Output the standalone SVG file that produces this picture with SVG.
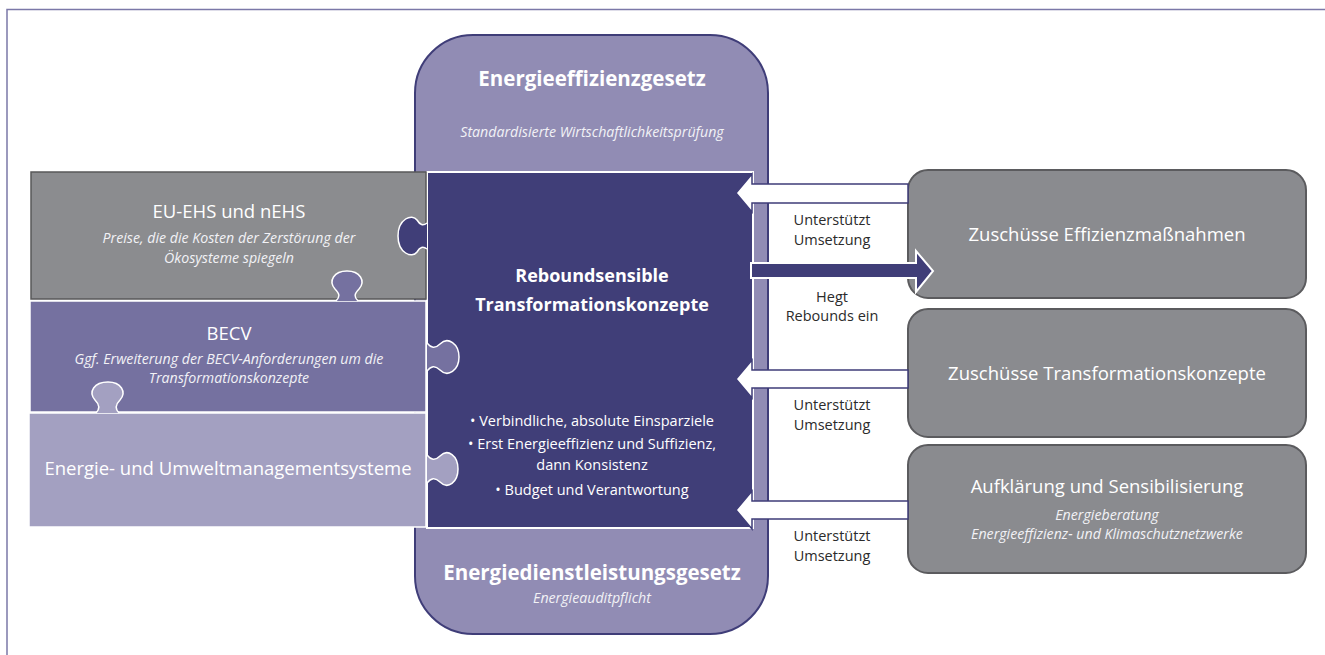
<svg xmlns="http://www.w3.org/2000/svg" width="1325" height="655" viewBox="0 0 1325 655">
<style>
text{font-family:"Open Sans","Noto Sans",sans-serif;fill:#fff;text-anchor:middle}
.t{font-size:18.5px}
.it{font-size:14.2px;font-style:italic;fill:#f2f2f6}
.b{font-weight:bold}
.lbl{font-size:14.5px;fill:#2b2b2b}
.bul{font-size:14.5px}
.arw{fill:#fff;stroke:#3f3d78;stroke-width:1.5}
.box{fill:#8a8b8f;stroke:#5b5b5e;stroke-width:2}
.knob{stroke:#fff;stroke-width:1.5}
</style>
<rect x="7" y="9.5" width="1340" height="680" fill="none" stroke="#7b78a8" stroke-width="1.5"/>

<g id="law-frame">
<rect x="415" y="35" width="353" height="599" rx="58" fill="#918cb4" stroke="#3f3d78" stroke-width="2"/>
<text class="b" x="592" y="86" font-size="20.5">Energieeffizienzgesetz</text>
<text class="it" x="592" y="137" font-size="13.7">Standardisierte Wirtschaftlichkeitsprüfung</text>
<text class="b" x="592" y="580" font-size="20.5">Energiedienstleistungsgesetz</text>
<text class="it" x="592" y="603">Energieauditpflicht</text>
</g>

<g id="center">
<rect x="427" y="172" width="326" height="356" fill="#403e78" stroke="#fff" stroke-width="2"/>
<text class="b" x="592" y="282" font-size="18">Reboundsensible</text>
<text class="b" x="592" y="311" font-size="18">Transformationskonzepte</text>
<text class="bul" x="592" y="426">• Verbindliche, absolute Einsparziele</text>
<text class="bul" x="592" y="449">• Erst Energieeffizienz und Suffizienz,</text>
<text class="bul" x="592" y="470">dann Konsistenz</text>
<text class="bul" x="592" y="495">• Budget und Verantwortung</text>
</g>

<g id="eu-ehs">
<rect x="31" y="172" width="395" height="127" fill="#8b8c8f" stroke="#58585a" stroke-width="1.5"/>
<path class="knob" fill="#403e78" d="M427,223 C423,226 420,225 417,220 C412,213 398,219 398,236 C398,253 412,259 417,252 C420,247 423,246 427,249"/>
<text class="t" x="229" y="218">EU-EHS und nEHS</text>
<text class="it" x="229" y="243">Preise, die die Kosten der Zerstörung der</text>
<text class="it" x="229" y="263">Ökosysteme spiegeln</text>
</g>

<g id="becv">
<rect x="30" y="301" width="396" height="111" fill="#7571a0" stroke="#fff" stroke-width="1.5"/>
<path class="knob" fill="#7571a0" d="M336,301 C340,297 340,294 335,289 C328,281 334,271 347,271 C360,271 366,281 359,289 C354,294 354,297 358,301"/>
<path class="knob" fill="#7571a0" d="M427,343 C431,348 435,349 440,344 C448,336 459,344 459,357 C459,370 448,378 440,370 C435,365 431,366 427,371"/>
<text class="t" x="229" y="340">BECV</text>
<text class="it" x="229" y="364">Ggf. Erweiterung der BECV-Anforderungen um die</text>
<text class="it" x="229" y="383">Transformationskonzepte</text>
</g>

<g id="ems">
<rect x="29" y="413" width="397" height="114" fill="#a3a0c1" stroke="#fff" stroke-width="1.5"/>
<path class="knob" fill="#a3a0c1" d="M96,413 C100,409 100,405 95,400 C88,392 94,382 108,382 C121,382 127,392 120,400 C115,405 115,409 119,413"/>
<path class="knob" fill="#a3a0c1" d="M427,455 C431,460 435,461 440,456 C448,448 458,456 458,469 C458,482 448,490 440,482 C435,477 431,478 427,483"/>
<text class="t" x="228" y="475" font-size="18">Energie- und Umweltmanagementsysteme</text>
</g>

<g id="zuschuesse-effizienz">
<rect class="box" x="908" y="170" width="398" height="128" rx="20"/>
<text class="t" x="1107" y="241">Zuschüsse Effizienzmaßnahmen</text>
</g>
<g id="zuschuesse-transformation">
<rect class="box" x="908" y="309" width="398" height="128" rx="20"/>
<text class="t" x="1107" y="380">Zuschüsse Transformationskonzepte</text>
</g>
<g id="aufklaerung">
<rect class="box" x="908" y="445" width="398" height="128" rx="20"/>
<text class="t" x="1107" y="493">Aufklärung und Sensibilisierung</text>
<text class="it" x="1107" y="520">Energieberatung</text>
<text class="it" x="1107" y="539">Energieeffizienz- und Klimaschutznetzwerke</text>
</g>

<g id="connectors">
<polygon class="arw" points="908,184 752,184 752,174 736,193 752,212 752,203 908,203"/>
<polygon fill="#403e78" stroke="#fff" stroke-width="2" points="751,263 916,263 916,251 933,271 916,292 916,278 751,278"/>
<polygon class="arw" points="908,370 752,370 752,360 736,379 752,398 752,388 908,388"/>
<polygon class="arw" points="908,501 752,501 752,491 736,510 752,529 752,519 908,519"/>
<text class="lbl" x="832" y="225">Unterstützt</text>
<text class="lbl" x="832" y="245">Umsetzung</text>
<text class="lbl" x="832" y="302">Hegt</text>
<text class="lbl" x="832" y="321">Rebounds ein</text>
<text class="lbl" x="832" y="410">Unterstützt</text>
<text class="lbl" x="832" y="430">Umsetzung</text>
<text class="lbl" x="832" y="541">Unterstützt</text>
<text class="lbl" x="832" y="561">Umsetzung</text>
</g>
</svg>
